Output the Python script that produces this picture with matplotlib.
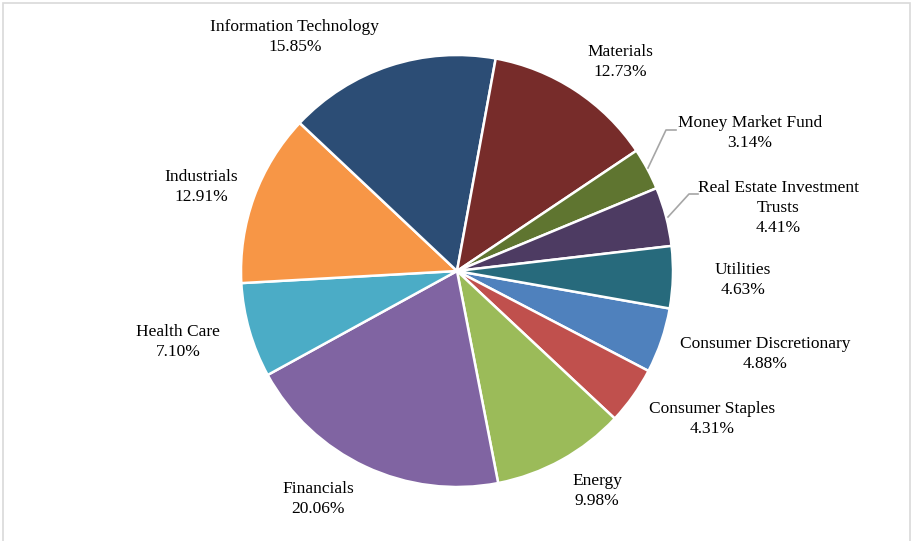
import numpy as np
import matplotlib
matplotlib.use('Agg')
import matplotlib.pyplot as plt

## data (alphabetical order, like the source sheet)
sectors = [
    'Consumer Discretionary', 'Consumer Staples', 'Energy', 'Financials',
    'Health Care', 'Industrials', 'Information Technology', 'Materials',
    'Money Market Fund', 'Real Estate Investment\nTrusts', 'Utilities',
]
weights = [4.88, 4.31, 9.98, 20.06, 7.10, 12.91, 15.85, 12.73, 3.14, 4.41, 4.63]

colors = [
    '#4F81BD', '#C0504D', '#9BBB59', '#8064A2', '#4BACC6', '#F79646',
    '#2C4D75', '#772C2A', '#5F7530', '#4D3B62', '#276A7C',
]

# label centres in pixel coords (origin top-left)
label_pos = [
    (765, 354), (712, 419), (597, 491), (318, 499), (178, 342), (201, 187),
    (295, 37), (620, 62), (750, 133), (778, 208), (743, 280),
]
# leader lines: (start on pie edge, elbow) for the small slices
leaders = {
    8: [(648, 168), (666, 130), (676, 130)],
    9: [(668, 217), (689, 194), (698, 194)],
}

W, H = 914, 541
fig = plt.figure(figsize=[W / 100, H / 100], dpi=100)
ax = fig.add_axes([0, 0, 1, 1])

cx, cy, r = 457, H - 271, 216
ax.pie(
    weights, colors=colors, startangle=-10, counterclock=False,
    center=(cx, cy), radius=r, frame=True,
    wedgeprops={'edgecolor': 'white', 'linewidth': 1.8},
)
ax.set_xlim(0, W)
ax.set_ylim(0, H)
ax.set_aspect('equal')
ax.axis('off')

for i, (name, val) in enumerate(zip(sectors, weights)):
    x, y = label_pos[i]
    ax.text(x, H - y, f'{name}\n{val:.2f}%', ha='center', va='center',
            fontsize=12.5, family='Liberation Serif', linespacing=1.32)

for pts in leaders.values():
    xs = [p[0] for p in pts]
    ys = [H - p[1] for p in pts]
    ax.plot(xs, ys, color='#A6A6A6', lw=1.2)

# light border around the chart area
fig.patches.append(plt.Rectangle((3 / W, -0.01), (W - 7) / W, 1 - 3 / H + 0.01,
                                 transform=fig.transFigure, fill=False,
                                 edgecolor='#D9D9D9', lw=1.2))

plt.savefig('out.png', dpi=100)
